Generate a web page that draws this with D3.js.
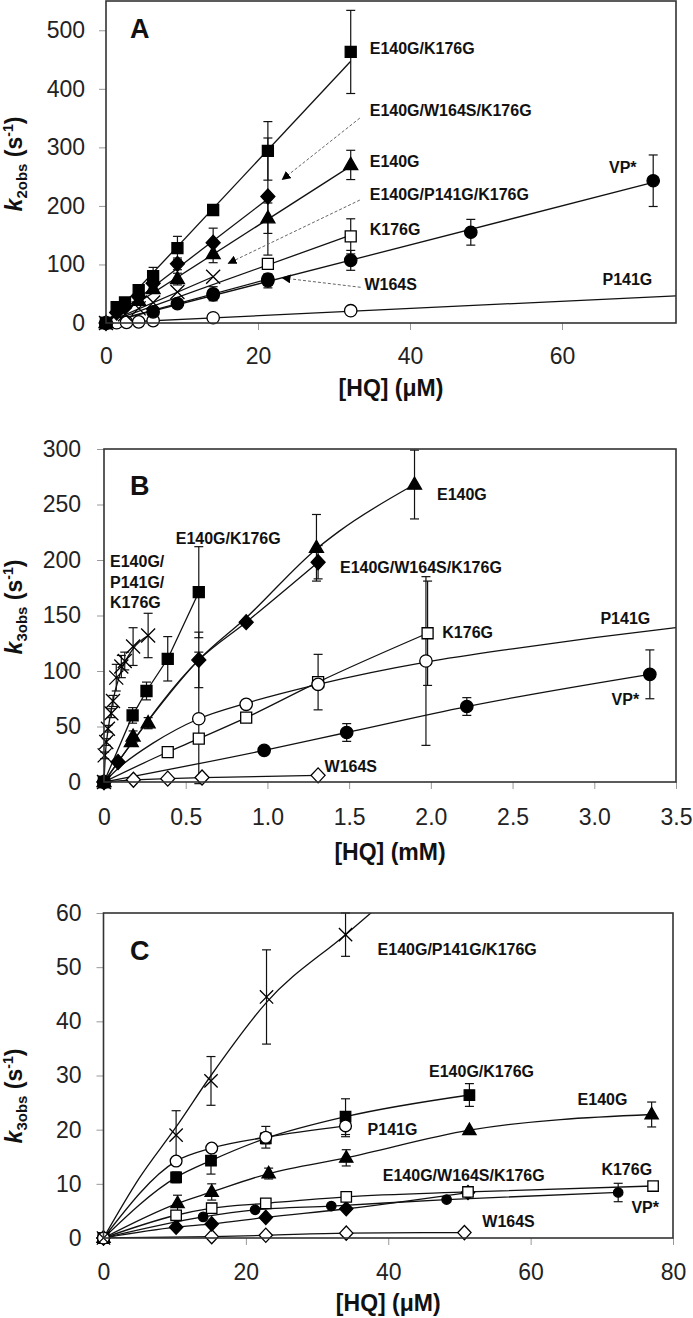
<!DOCTYPE html>
<html><head><meta charset="utf-8">
<script src="https://cdn.jsdelivr.net/npm/d3@7"></script>
<style>body{margin:0;background:#fff}</style>
</head><body>
<svg id="chart" width="693" height="1318"></svg>
<script>
// ================= DATA =================
// ---- Panel A : k2obs (s^-1) vs [HQ] (µM) ----
const A_hq_E140G_K176G = [0, 1.4, 2.5, 4.3, 6.2, 9.4, 14.1, 21.3, 32.2];
const A_k_E140G_K176G  = [0, 27, 35, 56, 80, 128, 193, 294, 463];
const A_err_E140G_K176G = [0, 0, 0, 5, 15, 20, 8, 50, 71];
const A_fit_E140G_K176G = [[0, 0], [32.2, 447]];

const A_hq_E140G_W164S_K176G = [0, 1.4, 2.5, 4.3, 6.2, 9.4, 14.1, 21.3];
const A_k_E140G_W164S_K176G  = [0, 18, 28, 45, 68, 101, 137, 216];
const A_err_E140G_W164S_K176G = [0, 0, 0, 0, 8, 10, 25, 100];
const A_fit_E140G_W164S_K176G = [[0, 0], [21.3, 212]];

const A_hq_E140G = [0, 4.3, 6.2, 9.4, 14.1, 21.3, 32.2];
const A_k_E140G  = [0, 38, 58, 75, 118, 179, 270];
const A_err_E140G = [0, 0, 0, 10, 15, 26, 25];
const A_fit_E140G = [[0, 0], [32.2, 268]];

const A_hq_E140G_P141G_K176G = [0, 2.5, 4.3, 6.2, 9.4, 14.1];
const A_k_E140G_P141G_K176G  = [0, 15, 25, 35, 53, 79];
const A_err_E140G_P141G_K176G = [0, 0, 0, 0, 0, 0];
const A_fit_E140G_P141G_K176G = [[0, 0], [14.1, 79]];

const A_hq_K176G = [0, 21.3, 32.2];
const A_k_K176G  = [0, 101, 148];
const A_err_K176G = [0, 0, 30];
const A_fit_K176G = [[0, 0], [32.2, 150]];

const A_hq_VP = [0, 14.1, 21.3, 32.2, 48, 72];
const A_k_VP  = [0, 50, 72, 107, 155, 243];
const A_err_VP = [0, 12, 12, 17, 22, 44];
const A_fit_VP = [[0, 0], [72, 240]];

const A_hq_W164S = [0, 6.2, 9.4, 14.1, 21.3];
const A_k_W164S  = [0, 19, 33, 48, 75];
const A_err_W164S = [0, 0, 0, 0, 0];
const A_fit_W164S = [[0, 0], [21.3, 75]];

const A_hq_P141G = [0, 1.4, 2.7, 4.3, 6.2, 14.1, 32.2];
const A_k_P141G  = [0, 0.5, 1, 2, 4, 9, 21];
const A_err_P141G = [0, 0, 0, 0, 0, 0, 0];
const A_fit_P141G = [[0, 0], [75, 46.5]];

const A_xTicks = [0, 20, 40, 60];
const A_yTicks = [0, 100, 200, 300, 400, 500];

// ---- Panel B : k3obs (s^-1) vs [HQ] (mM) ----
const B_hq_E140G_K176G = [0, 0.175, 0.26, 0.39, 0.58];
const B_k_E140G_K176G  = [0, 60, 82, 111, 171];
const B_err_E140G_K176G = [0, 7, 8, 20, 41];

const B_hq_E140G = [0, 0.167, 0.178, 0.27, 1.3, 1.9];
const B_k_E140G  = [0, 36, 41, 53, 211, 268];
const B_err_E140G = [0, 0, 5, 5, 30, 31];
const B_fit_E140G = [[0, 0], [0.27, 55], [0.58, 110], [0.87, 148], [1.3, 210], [1.44, 226], [1.9, 268]];

const B_hq_E140G_W164S_K176G = [0, 0.086, 0.58, 0.87, 1.31];
const B_k_E140G_W164S_K176G  = [0, 18, 110, 144, 198];
const B_err_E140G_W164S_K176G = [0, 0, 25, 0, 15];

const B_hq_E140G_P141G_K176G = [0, 0.004, 0.014, 0.024, 0.045, 0.055, 0.075, 0.106, 0.127, 0.178, 0.27];
const B_k_E140G_P141G_K176G  = [0, 24, 36, 48, 62, 73, 94, 104, 109, 122, 132];
const B_err_E140G_P141G_K176G = [0, 3, 3, 3, 4, 5, 12, 10, 8, 17, 20];
const B_fit_E140G_P141G_K176G = [[0, 0], [0.01, 28], [0.025, 47], [0.05, 70], [0.1, 98], [0.178, 120], [0.27, 132]];

const B_hq_K176G = [0, 0.39, 0.58, 0.87, 1.31, 1.98];
const B_k_K176G  = [0, 27, 39, 58, 90, 134];
const B_err_K176G = [0, 3, 3, 3, 25, 47];

const B_hq_P141G = [0, 0.58, 0.87, 1.31, 1.97];
const B_k_P141G  = [0, 57, 70, 88, 109];
const B_err_P141G = [0, 60, 0, 0, 76];
const B_fit_P141G = [[0, 0], [0.1, 14], [0.3, 35], [0.58, 57], [0.87, 71], [1.31, 88], [1.97, 108], [2.5, 120], [3.0, 130], [3.5, 139]];

const B_hq_VP = [0, 0.98, 1.485, 2.22, 3.34];
const B_k_VP  = [0, 28.5, 44.6, 68, 97];
const B_err_VP = [0, 3, 8, 8, 22];

const B_hq_W164S = [0, 0.18, 0.39, 0.6, 1.31];
const B_k_W164S  = [0, 2, 3, 4, 6];
const B_err_W164S = [0, 0, 0, 0, 0];

const B_xTicks = [0, 0.5, 1.0, 1.5, 2.0, 2.5, 3.0, 3.5];
const B_yTicks = [0, 50, 100, 150, 200, 250, 300];

// ---- Panel C : k3obs (s^-1) vs [HQ] (µM) ----
const C_hq_E140G_P141G_K176G = [0, 10.2, 15.1, 22.9, 34];
const C_k_E140G_P141G_K176G  = [0, 19, 29, 44.5, 56];
const C_err_E140G_P141G_K176G = [0, 4.5, 4.5, 8.7, 4];
const C_fit_E140G_P141G_K176G = [[0, 0], [5, 11], [10.2, 20.5], [15.1, 30], [22.9, 43.5], [34, 56], [38, 60.5]];

const C_hq_E140G_K176G = [0, 10.2, 15.1, 22.8, 34, 51.4];
const C_k_E140G_K176G  = [0, 11.2, 14.3, 18.4, 22.4, 26.4];
const C_err_E140G_K176G = [0, 1, 2.5, 1, 3.3, 2.1];

const C_hq_E140G_W164S_K176G = [0, 10.2, 15.2, 22.8, 34.1, 51.2];
const C_k_E140G_W164S_K176G  = [0, 2.0, 2.6, 3.8, 5.4, 8.4];
const C_err_E140G_W164S_K176G = [0, 0, 0, 0, 0, 0];

const C_hq_E140G = [0, 10.4, 15.2, 23.2, 34.1, 51.4, 77];
const C_k_E140G  = [0, 6.4, 8.5, 11.9, 14.8, 19.9, 22.8];
const C_err_E140G = [0, 1.5, 1.5, 1, 1.5, 0, 2.3];

const C_hq_K176G = [0, 10.2, 15.2, 22.8, 34.1, 51.2, 77.2];
const C_k_K176G  = [0, 4.2, 5.5, 6.4, 7.6, 8.5, 9.6];
const C_err_K176G = [0, 0.5, 0.5, 0.5, 0.5, 0.5, 0];

const C_hq_VP = [0, 14, 21.3, 32, 48.2, 72.3];
const C_k_VP  = [0, 3.9, 5.2, 5.9, 7.1, 8.4];
const C_err_VP = [0, 0, 0, 0, 0, 1.7];

const C_hq_P141G = [0, 10.2, 15.2, 22.8, 34];
const C_k_P141G  = [0, 14.2, 16.6, 18.6, 20.7];
const C_err_P141G = [0, 0, 0, 2, 2];

const C_hq_W164S = [0, 15.2, 22.8, 34.1, 50.7];
const C_k_W164S  = [0, 0.25, 0.5, 0.9, 1.0];
const C_err_W164S = [0, 0, 0, 0, 0];

const C_xTicks = [0, 20, 40, 60, 80];
const C_yTicks = [0, 10, 20, 30, 40, 50, 60];

// ================= DRAWING =================
const FONT = '"Liberation Sans", Arial, Helvetica, sans-serif';
const svg = d3.select('#chart');
svg.append('rect').attr('width', 693).attr('height', 1318).attr('fill', '#fff');

const defs = svg.append('defs');
defs.append('marker').attr('id', 'arr').attr('viewBox', '0 0 10 10')
  .attr('refX', 9).attr('refY', 5).attr('markerWidth', 9).attr('markerHeight', 9)
  .attr('markerUnits', 'userSpaceOnUse').attr('orient', 'auto')
  .append('path').attr('d', 'M0,0 L10,5 L0,10 Z').attr('fill', '#000');

function ser(name, mk, xs, ys, errs, fit, curve) {
  return {name, mk, pts: xs.map((v, i) => ({x: v, y: ys[i], e: errs[i]})), fit: fit || xs.map((v, i) => [v, ys[i]]), curve};
}

function markerPath(shape, cx, cy, s) {
  if (shape === 'square') { const h = 5.5 * s; return `M${cx-h},${cy-h}h${2*h}v${2*h}h${-2*h}Z`; }
  if (shape === 'diamond') { const w = 7 * s, h = 7.5 * s; return `M${cx},${cy-h}L${cx+w},${cy}L${cx},${cy+h}L${cx-w},${cy}Z`; }
  if (shape === 'triangle') { const a = 14 * s, h = a * 0.866; return `M${cx},${cy-h*0.62}L${cx+a/2},${cy+h*0.38}L${cx-a/2},${cy+h*0.38}Z`; }
  if (shape === 'x') { const h = 7 * s; return `M${cx-h},${cy-h}L${cx+h},${cy+h}M${cx+h},${cy-h}L${cx-h},${cy+h}`; }
  return '';
}
const MK = {
  fsq: {shape: 'square', fill: '#000'}, osq: {shape: 'square', fill: '#fff'},
  fdi: {shape: 'diamond', fill: '#000'}, odi: {shape: 'diamond', fill: '#fff'},
  ftr: {shape: 'triangle', fill: '#000'}, fci: {shape: 'circle', fill: '#000'},
  oci: {shape: 'circle', fill: '#fff'}, x: {shape: 'x', fill: 'none'}
};

function panel(cfg, idx) {
  const g = svg.append('g');
  const x = d3.scaleLinear().domain(cfg.xDomain).range([cfg.left, cfg.right]);
  const y = d3.scaleLinear().domain(cfg.yDomain).range([cfg.bottom, cfg.top]);

  const styleAxis = s => {
    s.select('.domain').remove();
    s.selectAll('line').attr('stroke', '#999').attr('stroke-width', 1);
    s.selectAll('text').attr('font-size', 23).attr('font-family', FONT).attr('fill', '#222');
  };
  g.append('g').attr('transform', `translate(0,${cfg.bottom})`)
    .call(d3.axisBottom(x).tickValues(cfg.xTicks).tickFormat(cfg.xFmt).tickSize(7).tickPadding(cfg.xPad))
    .call(styleAxis);
  g.append('g').attr('transform', `translate(${cfg.left},0)`)
    .call(d3.axisLeft(y).tickValues(cfg.yTicks).tickFormat(d3.format('d')).tickSize(7).tickPadding(cfg.yPad))
    .call(styleAxis);

  const cid = 'clip' + idx;
  defs.append('clipPath').attr('id', cid).append('rect')
    .attr('x', cfg.left).attr('y', cfg.top).attr('width', cfg.right - cfg.left).attr('height', cfg.bottom - cfg.top);

  const plot = g.append('g');
  const lines = plot.append('g').attr('clip-path', `url(#${cid})`);
  cfg.series.forEach(s => {
    const ln = d3.line().x(d => x(d[0])).y(d => y(d[1])).curve(s.curve ? d3.curveMonotoneX : d3.curveLinear);
    lines.append('path').attr('d', ln(s.fit)).attr('fill', 'none').attr('stroke', '#111').attr('stroke-width', 1.3);
  });
  // error bars
  const eb = plot.append('g').attr('stroke', '#111').attr('stroke-width', 1.2);
  cfg.series.forEach(s => s.pts.filter(p => p.e > 0).forEach(p => {
    const px = x(p.x), y1 = y(p.y + p.e), y2 = y(Math.max(p.y - p.e, cfg.yDomain[0] - 0.5 * (cfg.yDomain[1] / 100)));
    eb.append('line').attr('x1', px).attr('x2', px).attr('y1', y1).attr('y2', y2);
    eb.append('line').attr('x1', px - 4.5).attr('x2', px + 4.5).attr('y1', y1).attr('y2', y1);
    eb.append('line').attr('x1', px - 4.5).attr('x2', px + 4.5).attr('y1', y2).attr('y2', y2);
  }));
  // markers
  const mg = plot.append('g');
  cfg.series.forEach(s => {
    const m = MK[s.mk];
    const sc = (s.scale || 1) * cfg.mscale;
    s.pts.forEach(p => {
      const px = x(p.x), py = y(p.y);
      if (m.shape === 'circle') {
        mg.append('circle').attr('cx', px).attr('cy', py).attr('r', 6.2 * sc)
          .attr('fill', m.fill).attr('stroke', '#000').attr('stroke-width', 1.3);
      } else if (m.shape === 'x') {
        mg.append('path').attr('d', markerPath('x', px, py, sc)).attr('fill', 'none').attr('stroke', '#000').attr('stroke-width', 1.3);
      } else {
        mg.append('path').attr('d', markerPath(m.shape, px, py, sc)).attr('fill', m.fill).attr('stroke', '#000').attr('stroke-width', 1.3);
      }
    });
  });
  // frame
  g.append('rect').attr('x', cfg.left).attr('y', cfg.top).attr('width', cfg.right - cfg.left).attr('height', cfg.bottom - cfg.top)
    .attr('fill', 'none').attr('stroke', '#333').attr('stroke-width', 1.6);

  // annotation arrows
  (cfg.arrows || []).forEach(a => {
    g.append('line').attr('x1', x(a[0])).attr('y1', y(a[1])).attr('x2', x(a[2])).attr('y2', y(a[3]))
      .attr('stroke', '#666').attr('stroke-width', 1).attr('stroke-dasharray', '3,2').attr('marker-end', 'url(#arr)');
  });
  // series labels
  cfg.labels.forEach(l => {
    g.append('text').attr('x', x(l[1])).attr('y', y(l[2]) + 5.6).attr('text-anchor', l[3])
      .attr('font-family', FONT).attr('font-weight', 'bold').attr('font-size', 16).attr('fill', '#111').text(l[0]);
  });
  // panel letter
  g.append('text').attr('x', 130).attr('y', cfg.letterY).attr('font-family', FONT).attr('font-weight', 'bold')
    .attr('font-size', 27).attr('fill', '#111').text(cfg.letter);
  // x title
  g.append('text').attr('x', (cfg.left + cfg.right) / 2).attr('y', cfg.xTitleY).attr('text-anchor', 'middle')
    .attr('font-family', FONT).attr('font-weight', 'bold').attr('font-size', 23).attr('fill', '#111').text(cfg.xTitle);
  // y title
  const yt = g.append('text').attr('transform', `translate(22,${cfg.yTitleC}) rotate(-90)`).attr('text-anchor', 'middle')
    .attr('font-family', FONT).attr('font-weight', 'bold').attr('font-size', 23).attr('fill', '#111');
  yt.append('tspan').attr('font-style', 'italic').text('k');
  yt.append('tspan').attr('font-size', 15).attr('dy', 5).text(cfg.ySub);
  yt.append('tspan').attr('dy', -5).text(' (s');
  yt.append('tspan').attr('font-size', 14).attr('dy', -9).text('-1');
  yt.append('tspan').attr('dy', 9).text(')');
}

const fmtInt = d3.format('d');
const fmtB = d => d === 0 ? '0' : d3.format('.1f')(d);

panel({
  letter: 'A', letterY: 38, left: 106, right: 676, top: 1, bottom: 323,
  xDomain: [0, 75], yDomain: [0, 550], xTicks: A_xTicks, yTicks: A_yTicks, xFmt: fmtInt,
  xPad: 18, yPad: 14, mscale: 1, xTitle: '[HQ] (μM)', xTitleY: 396, ySub: '2obs', yTitleC: 164,
  series: [
    ser('P141G', 'oci', A_hq_P141G, A_k_P141G, A_err_P141G, A_fit_P141G, false),
    ser('W164S', 'fci', A_hq_W164S, A_k_W164S, A_err_W164S, A_fit_W164S, false),
    ser('VP*', 'fci', A_hq_VP, A_k_VP, A_err_VP, A_fit_VP, false),
    ser('K176G', 'osq', A_hq_K176G, A_k_K176G, A_err_K176G, A_fit_K176G, false),
    ser('E140G/P141G/K176G', 'x', A_hq_E140G_P141G_K176G, A_k_E140G_P141G_K176G, A_err_E140G_P141G_K176G, A_fit_E140G_P141G_K176G, false),
    ser('E140G', 'ftr', A_hq_E140G, A_k_E140G, A_err_E140G, A_fit_E140G, false),
    ser('E140G/W164S/K176G', 'fdi', A_hq_E140G_W164S_K176G, A_k_E140G_W164S_K176G, A_err_E140G_W164S_K176G, A_fit_E140G_W164S_K176G, false),
    ser('E140G/K176G', 'fsq', A_hq_E140G_K176G, A_k_E140G_K176G, A_err_E140G_K176G, A_fit_E140G_K176G, false)
  ],
  labels: [
    ['E140G/K176G', 34.7, 469, 'start'], ['E140G/W164S/K176G', 34.7, 363, 'start'],
    ['E140G', 34.7, 276, 'start'], ['E140G/P141G/K176G', 34.7, 220, 'start'],
    ['K176G', 34.7, 160, 'start'], ['W164S', 34.0, 66, 'start'],
    ['VP*', 68, 266, 'middle'], ['P141G', 68.6, 75, 'middle']
  ],
  arrows: [[33.4, 350, 23.2, 245], [33.4, 210, 16.1, 102], [33.5, 61, 23.2, 77]]
}, 0);

panel({
  letter: 'B', letterY: 495, left: 104, right: 676, top: 449, bottom: 782,
  xDomain: [0, 3.5], yDomain: [0, 300], xTicks: B_xTicks, yTicks: B_yTicks, xFmt: fmtB,
  xPad: 20, yPad: 16, mscale: 1, xTitle: '[HQ] (mM)', xTitleY: 860, ySub: '3obs', yTitleC: 607,
  series: [
    ser('W164S', 'odi', B_hq_W164S, B_k_W164S, B_err_W164S, null, false),
    ser('VP*', 'fci', B_hq_VP, B_k_VP, B_err_VP, null, true),
    ser('K176G', 'osq', B_hq_K176G, B_k_K176G, B_err_K176G, null, true),
    ser('P141G', 'oci', B_hq_P141G, B_k_P141G, B_err_P141G, B_fit_P141G, true),
    ser('E140G/P141G/K176G', 'x', B_hq_E140G_P141G_K176G, B_k_E140G_P141G_K176G, B_err_E140G_P141G_K176G, B_fit_E140G_P141G_K176G, true),
    ser('E140G', 'ftr', B_hq_E140G, B_k_E140G, B_err_E140G, B_fit_E140G, true),
    ser('E140G/W164S/K176G', 'fdi', B_hq_E140G_W164S_K176G, B_k_E140G_W164S_K176G, B_err_E140G_W164S_K176G, null, true),
    ser('E140G/K176G', 'fsq', B_hq_E140G_K176G, B_k_E140G_K176G, B_err_E140G_K176G, null, false)
  ],
  labels: [
    ['E140G', 2.19, 259, 'middle'], ['E140G/W164S/K176G', 1.444, 193, 'start'],
    ['K176G', 2.07, 135, 'start'], ['P141G', 3.19, 147, 'middle'], ['VP*', 3.19, 74, 'middle'],
    ['W164S', 1.51, 14.5, 'middle'], ['E140G/K176G', 0.76, 219.6, 'middle'],
    ['E140G/', 0.037, 199, 'start'], ['P141G/', 0.037, 180, 'start'], ['K176G', 0.037, 162, 'start']
  ]
}, 1);

panel({
  letter: 'C', letterY: 960, left: 103.5, right: 673, top: 913, bottom: 1238,
  xDomain: [0, 80], yDomain: [0, 60], xTicks: C_xTicks, yTicks: C_yTicks, xFmt: fmtInt,
  xPad: 19, yPad: 15, mscale: 0.95, xTitle: '[HQ] (μM)', xTitleY: 1311, ySub: '3obs', yTitleC: 1096,
  series: [
    ser('W164S', 'odi', C_hq_W164S, C_k_W164S, C_err_W164S, null, true),
    ser('E140G/W164S/K176G', 'fdi', C_hq_E140G_W164S_K176G, C_k_E140G_W164S_K176G, C_err_E140G_W164S_K176G, null, true),
    Object.assign(ser('VP*', 'fci', C_hq_VP, C_k_VP, C_err_VP, null, true), {scale: 0.8}),
    ser('K176G', 'osq', C_hq_K176G, C_k_K176G, C_err_K176G, null, true),
    ser('E140G', 'ftr', C_hq_E140G, C_k_E140G, C_err_E140G, null, true),
    ser('E140G/K176G', 'fsq', C_hq_E140G_K176G, C_k_E140G_K176G, C_err_E140G_K176G, null, true),
    ser('P141G', 'oci', C_hq_P141G, C_k_P141G, C_err_P141G, null, true),
    ser('E140G/P141G/K176G', 'x', C_hq_E140G_P141G_K176G, C_k_E140G_P141G_K176G, C_err_E140G_P141G_K176G, C_fit_E140G_P141G_K176G, true)
  ],
  labels: [
    ['E140G/P141G/K176G', 38.5, 53.2, 'start'], ['E140G/K176G', 53.1, 30.8, 'middle'],
    ['E140G', 70.1, 25.5, 'middle'], ['P141G', 40.6, 20.1, 'middle'],
    ['E140G/W164S/K176G', 50.6, 11.6, 'middle'], ['K176G', 73.5, 12.7, 'middle'],
    ['VP*', 76.1, 5.7, 'middle'], ['W164S', 56.9, 3.1, 'middle']
  ]
}, 2);
</script>
</body></html>
